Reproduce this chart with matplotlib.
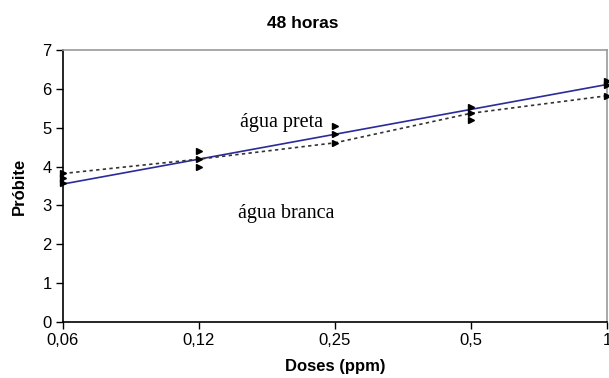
import matplotlib.pyplot as plt
import numpy as np

# dose categories (equally spaced on the axis)
DOSES = ['0,06', '0,12', '0,25', '0,5', '1']

# fitted probit lines
LINE_PRETA = [3.55, 4.19, 4.83, 5.47, 6.11]
LINE_BRANCA = [3.82, 4.19, 4.61, 5.37, 5.82]

# observed probit points (three per dose)
OBS_DOSE_IDX = [0, 0, 0, 1, 1, 1, 2, 2, 2, 3, 3, 3, 4, 4, 4]
OBS_PROBIT = [3.57, 3.70, 3.83, 4.00, 4.19, 4.41, 4.61, 4.83, 5.03,
              5.20, 5.37, 5.54, 5.82, 6.10, 6.21]

NARROW = ['Liberation Sans Narrow', 'Liberation Sans', 'DejaVu Sans']
SERIF = ['Liberation Serif', 'DejaVu Serif']


def show_chart():
    fig = plt.figure(figsize=(6.09, 3.78), dpi=100)
    ax = fig.add_axes([0.1034, 0.148, 0.8933, 0.72])

    x = np.arange(len(DOSES))
    ax.plot(x, LINE_PRETA, color='#2b2b9a', lw=1.2, zorder=3)
    ax.plot(x, LINE_BRANCA, color='#333333', lw=1.2, ls=(0, (2, 2)), zorder=3)
    ax.plot(OBS_DOSE_IDX, OBS_PROBIT, '>', color='black', markersize=5,
            clip_on=False, zorder=4)

    ax.set_xlim(0, 4)
    ax.set_ylim(0, 7)
    ax.set_xticks(x)
    ax.set_xticklabels(DOSES)
    ax.set_yticks(range(0, 8))

    for lbl in ax.get_xticklabels() + ax.get_yticklabels():
        lbl.set_family(NARROW)
        lbl.set_fontsize(12)

    ax.tick_params(direction='out', length=5, width=1, pad=3, colors='black')
    ax.spines['left'].set_color('black')
    ax.spines['bottom'].set_color('black')
    ax.spines['top'].set_color('#999999')
    ax.spines['right'].set_color('#999999')
    for s in ax.spines.values():
        s.set_linewidth(1.2)

    ax.text(1.30, 5.12, 'água preta', family=SERIF, fontsize=14.5, va='center')
    ax.text(1.29, 2.80, 'água branca', family=SERIF, fontsize=14.5, va='center')

    ax.set_xlabel('Doses (ppm)', family=NARROW, fontsize=12, fontweight='bold', labelpad=8)
    ax.set_ylabel('Próbite', family=NARROW, fontsize=12, fontweight='bold', labelpad=11)
    fig.text(0.497, 0.937, '48 horas', family=NARROW, fontsize=12.5,
             fontweight='bold', ha='center', va='center')

    fig.savefig('out.png', dpi=100)


if __name__ == '__main__':
    show_chart()
